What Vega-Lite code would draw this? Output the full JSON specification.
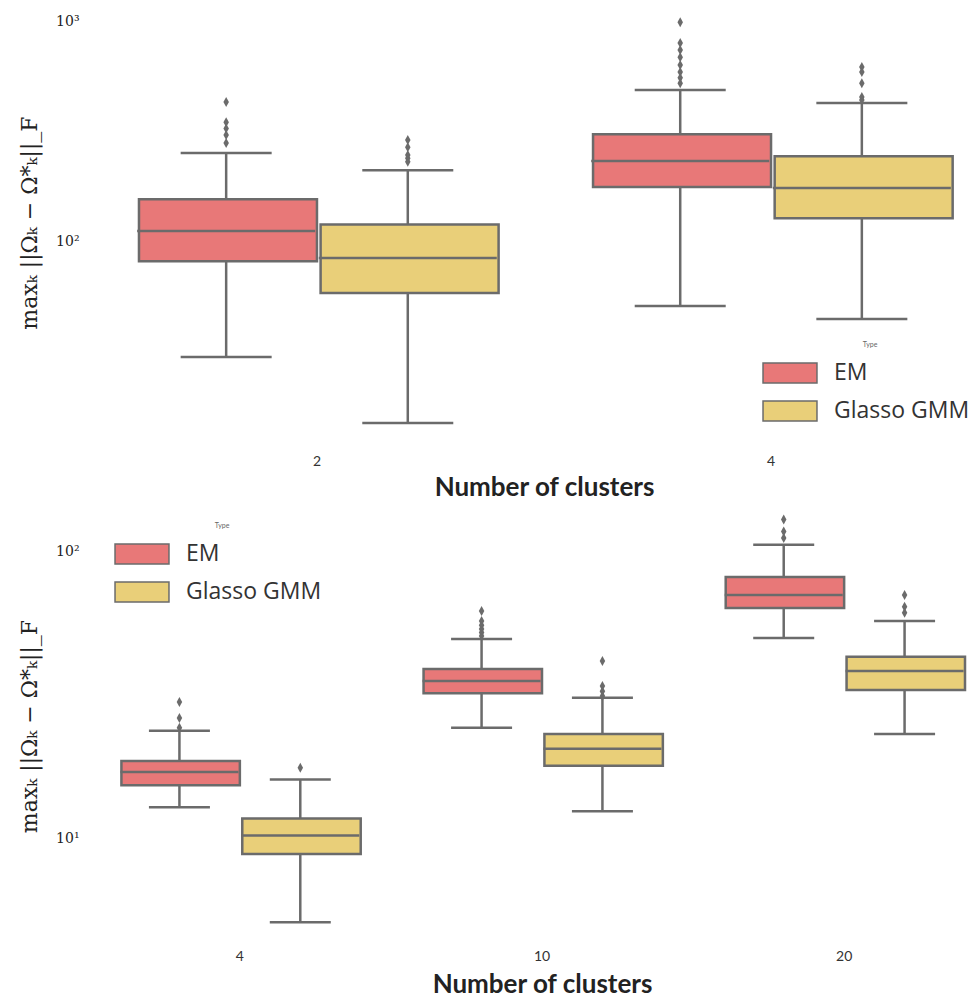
{
  "$schema": "https://vega.github.io/schema/vega-lite/v6.json",
  "background": "white",
  "padding": {"left": 18, "top": 5, "right": 0, "bottom": 0},
  "spacing": 11,
  "config": {
    "view": {"stroke": null},
    "axis": {"grid": false, "domain": false, "ticks": false},
    "axisX": {"labelFont": "Lato", "labelFontSize": 14, "labelColor": "#333333", "labelAngle": 0, "titleFont": "Lato", "titleFontWeight": "bold", "titleFontSize": 26, "titleColor": "#222222"},
    "axisY": {"labelFont": "DejaVu Serif", "labelFontSize": 14, "labelColor": "#222222", "labelPadding": 40, "titleFont": "DejaVu Serif", "titleFontSize": 22, "titleFontWeight": "normal", "titleColor": "#222222", "titlePadding": 14},
    "legend": {"orient": "none", "padding": 0, "titleFont": "Lato", "titleFontSize": 7, "titleFontWeight": "normal", "titleColor": "#666666", "titleAnchor": "middle", "titlePadding": 5, "labelFont": "Open Sans", "labelFontSize": 23, "labelColor": "#333333", "labelOffset": 24, "rowPadding": 4, "symbolType": "M-1.42,-0.53H1.42V0.53H-1.42Z", "symbolSize": 1444, "symbolStrokeColor": "#6b6b6b", "symbolStrokeWidth": 1.5, "symbolOpacity": 1}
  },
  "datasets": {
    "topBoxes": [
      {"clusters": "2", "type": "EM", "lower": 29.7, "q1": 81, "median": 111, "q3": 155, "upper": 251},
      {"clusters": "2", "type": "Glasso GMM", "lower": 14.9, "q1": 58, "median": 83.7, "q3": 119, "upper": 210},
      {"clusters": "4", "type": "EM", "lower": 50.7, "q1": 176, "median": 231, "q3": 306, "upper": 486},
      {"clusters": "4", "type": "Glasso GMM", "lower": 44.2, "q1": 127, "median": 174, "q3": 243, "upper": 424}
    ],
    "topOutliers": [
      {"clusters": "2", "type": "EM", "value": 428},
      {"clusters": "2", "type": "EM", "value": 347},
      {"clusters": "2", "type": "EM", "value": 325},
      {"clusters": "2", "type": "EM", "value": 303},
      {"clusters": "2", "type": "EM", "value": 279},
      {"clusters": "2", "type": "Glasso GMM", "value": 288},
      {"clusters": "2", "type": "Glasso GMM", "value": 267},
      {"clusters": "2", "type": "Glasso GMM", "value": 246},
      {"clusters": "2", "type": "Glasso GMM", "value": 238},
      {"clusters": "2", "type": "Glasso GMM", "value": 229},
      {"clusters": "4", "type": "EM", "value": 988},
      {"clusters": "4", "type": "EM", "value": 795},
      {"clusters": "4", "type": "EM", "value": 738},
      {"clusters": "4", "type": "EM", "value": 685},
      {"clusters": "4", "type": "EM", "value": 631},
      {"clusters": "4", "type": "EM", "value": 586},
      {"clusters": "4", "type": "EM", "value": 552},
      {"clusters": "4", "type": "EM", "value": 522},
      {"clusters": "4", "type": "Glasso GMM", "value": 618},
      {"clusters": "4", "type": "Glasso GMM", "value": 586},
      {"clusters": "4", "type": "Glasso GMM", "value": 522},
      {"clusters": "4", "type": "Glasso GMM", "value": 451},
      {"clusters": "4", "type": "Glasso GMM", "value": 437}
    ],
    "bottomBoxes": [
      {"clusters": "4", "type": "EM", "lower": 12.8, "q1": 15.3, "median": 17.0, "q3": 18.6, "upper": 23.7},
      {"clusters": "4", "type": "Glasso GMM", "lower": 5.08, "q1": 8.79, "median": 10.2, "q3": 11.7, "upper": 16.0},
      {"clusters": "10", "type": "EM", "lower": 24.3, "q1": 32.1, "median": 35.4, "q3": 39.0, "upper": 49.6},
      {"clusters": "10", "type": "Glasso GMM", "lower": 12.4, "q1": 17.9, "median": 20.5, "q3": 23.1, "upper": 30.9},
      {"clusters": "20", "type": "EM", "lower": 50.0, "q1": 63.7, "median": 70.8, "q3": 81.8, "upper": 106},
      {"clusters": "20", "type": "Glasso GMM", "lower": 23.1, "q1": 32.9, "median": 38.4, "q3": 43.0, "upper": 57.4}
    ],
    "bottomOutliers": [
      {"clusters": "4", "type": "EM", "value": 29.9},
      {"clusters": "4", "type": "EM", "value": 26.3},
      {"clusters": "4", "type": "EM", "value": 24.3},
      {"clusters": "4", "type": "Glasso GMM", "value": 17.6},
      {"clusters": "10", "type": "EM", "value": 62.2},
      {"clusters": "10", "type": "EM", "value": 57.4},
      {"clusters": "10", "type": "EM", "value": 55.5},
      {"clusters": "10", "type": "EM", "value": 53.8},
      {"clusters": "10", "type": "EM", "value": 52.3},
      {"clusters": "10", "type": "EM", "value": 50.8},
      {"clusters": "10", "type": "Glasso GMM", "value": 41.6},
      {"clusters": "10", "type": "Glasso GMM", "value": 34.0},
      {"clusters": "10", "type": "Glasso GMM", "value": 32.6},
      {"clusters": "10", "type": "Glasso GMM", "value": 31.4},
      {"clusters": "20", "type": "EM", "value": 130},
      {"clusters": "20", "type": "EM", "value": 118},
      {"clusters": "20", "type": "EM", "value": 112},
      {"clusters": "20", "type": "Glasso GMM", "value": 70.8},
      {"clusters": "20", "type": "Glasso GMM", "value": 64.3},
      {"clusters": "20", "type": "Glasso GMM", "value": 61.3}
    ]
  },
  "resolve": {"scale": {"color": "independent", "xOffset": "independent", "x": "independent", "y": "independent"}, "legend": {"color": "independent"}},
  "vconcat": [
    {
      "width": 850,
      "height": 435,
      "encoding": {
        "x": {"field": "clusters", "type": "nominal", "sort": ["2", "4"], "scale": {"paddingInner": 0.2, "paddingOuter": 0.036}, "axis": {"title": "Number of clusters", "labelPadding": 14, "titlePadding": 6}},
        "xOffset": {"field": "type", "type": "nominal", "sort": ["EM", "Glasso GMM"], "scale": {"paddingInner": 0, "paddingOuter": 0}}
      },
      "layer": [
        {
          "data": {"name": "topBoxes"},
          "mark": {"type": "rule", "color": "#6b6b6b", "strokeWidth": 2.5},
          "encoding": {
            "y": {"field": "lower", "type": "quantitative", "title": "maxₖ ||Ωₖ − Ω*ₖ||_F", "scale": {"type": "log", "domain": [12.46, 1182.6], "nice": false, "zero": false}, "axis": {"values": [100, 1000], "labelExpr": "datum.value >= 999 ? '10³' : '10²'"}},
            "y2": {"field": "upper"}
          }
        },
        {
          "data": {"name": "topBoxes"},
          "mark": {"type": "bar", "stroke": "#6b6b6b", "strokeWidth": 2.5, "width": {"band": 0.98}, "opacity": 1},
          "encoding": {
            "y": {"field": "q1", "type": "quantitative", "title": "maxₖ ||Ωₖ − Ω*ₖ||_F"},
            "y2": {"field": "q3"},
            "color": {"field": "type", "type": "nominal", "title": "Type", "sort": ["EM", "Glasso GMM"], "scale": {"domain": ["EM", "Glasso GMM"], "range": ["#e87878", "#e9cf79"]}, "legend": {"legendX": 651, "legendY": 336}}
          }
        },
        {
          "data": {"name": "topBoxes"},
          "mark": {"type": "tick", "color": "#6b6b6b", "thickness": 2.5, "size": 178, "opacity": 1},
          "encoding": {"y": {"field": "median", "type": "quantitative", "title": "maxₖ ||Ωₖ − Ω*ₖ||_F"}}
        },
        {
          "data": {"name": "topBoxes"},
          "mark": {"type": "tick", "color": "#6b6b6b", "thickness": 2.5, "size": 91, "opacity": 1},
          "encoding": {"y": {"field": "lower", "type": "quantitative", "title": "maxₖ ||Ωₖ − Ω*ₖ||_F"}}
        },
        {
          "data": {"name": "topBoxes"},
          "mark": {"type": "tick", "color": "#6b6b6b", "thickness": 2.5, "size": 91, "opacity": 1},
          "encoding": {"y": {"field": "upper", "type": "quantitative", "title": "maxₖ ||Ωₖ − Ω*ₖ||_F"}}
        },
        {
          "data": {"name": "topOutliers"},
          "mark": {"type": "point", "shape": "M0,-1L0.55,0L0,1L-0.55,0Z", "size": 100, "filled": true, "color": "#6b6b6b", "opacity": 1},
          "encoding": {"y": {"field": "value", "type": "quantitative", "title": "maxₖ ||Ωₖ − Ω*ₖ||_F"}}
        }
      ]
    },
    {
      "width": 846,
      "height": 430,
      "encoding": {
        "x": {"field": "clusters", "type": "nominal", "sort": ["4", "10", "20"], "scale": {"paddingInner": 0.2, "paddingOuter": 0}, "axis": {"title": "Number of clusters", "labelPadding": 8, "titlePadding": 8}},
        "xOffset": {"field": "type", "type": "nominal", "sort": ["EM", "Glasso GMM"], "scale": {"paddingInner": 0, "paddingOuter": 0}}
      },
      "layer": [
        {
          "data": {"name": "bottomBoxes"},
          "mark": {"type": "rule", "color": "#6b6b6b", "strokeWidth": 2.5},
          "encoding": {
            "y": {"field": "lower", "type": "quantitative", "title": "maxₖ ||Ωₖ − Ω*ₖ||_F", "scale": {"type": "log", "domain": [4.364, 139.1], "nice": false, "zero": false}, "axis": {"values": [10, 100], "labelExpr": "datum.value >= 99 ? '10²' : '10¹'"}},
            "y2": {"field": "upper"}
          }
        },
        {
          "data": {"name": "bottomBoxes"},
          "mark": {"type": "bar", "stroke": "#6b6b6b", "strokeWidth": 2.5, "width": {"band": 0.98}, "opacity": 1},
          "encoding": {
            "y": {"field": "q1", "type": "quantitative", "title": "maxₖ ||Ωₖ − Ω*ₖ||_F"},
            "y2": {"field": "q3"},
            "color": {"field": "type", "type": "nominal", "title": "Type", "sort": ["EM", "Glasso GMM"], "scale": {"domain": ["EM", "Glasso GMM"], "range": ["#e87878", "#e9cf79"]}, "legend": {"legendX": 3, "legendY": 11}}
          }
        },
        {
          "data": {"name": "bottomBoxes"},
          "mark": {"type": "tick", "color": "#6b6b6b", "thickness": 2.5, "size": 118, "opacity": 1},
          "encoding": {"y": {"field": "median", "type": "quantitative", "title": "maxₖ ||Ωₖ − Ω*ₖ||_F"}}
        },
        {
          "data": {"name": "bottomBoxes"},
          "mark": {"type": "tick", "color": "#6b6b6b", "thickness": 2.5, "size": 61, "opacity": 1},
          "encoding": {"y": {"field": "lower", "type": "quantitative", "title": "maxₖ ||Ωₖ − Ω*ₖ||_F"}}
        },
        {
          "data": {"name": "bottomBoxes"},
          "mark": {"type": "tick", "color": "#6b6b6b", "thickness": 2.5, "size": 61, "opacity": 1},
          "encoding": {"y": {"field": "upper", "type": "quantitative", "title": "maxₖ ||Ωₖ − Ω*ₖ||_F"}}
        },
        {
          "data": {"name": "bottomOutliers"},
          "mark": {"type": "point", "shape": "M0,-1L0.55,0L0,1L-0.55,0Z", "size": 100, "filled": true, "color": "#6b6b6b", "opacity": 1},
          "encoding": {"y": {"field": "value", "type": "quantitative", "title": "maxₖ ||Ωₖ − Ω*ₖ||_F"}}
        }
      ]
    }
  ]
}
